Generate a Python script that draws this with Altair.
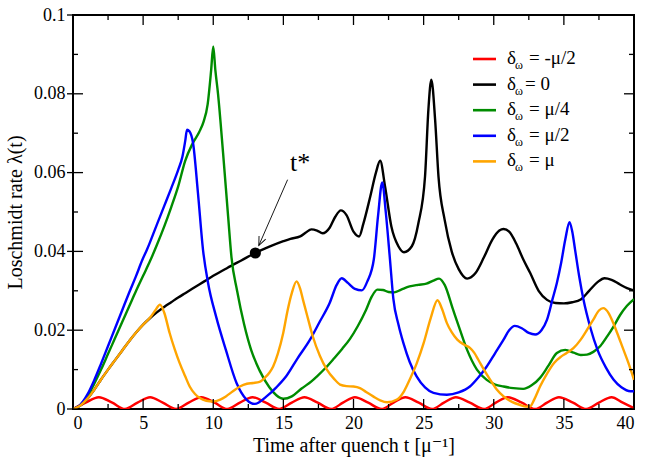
import altair as alt
import pandas as pd

W, H = 561, 394

# ---------------- data ----------------
red_t = [0, 0.9, 1.84, 2.8, 3.7, 4.6, 5.5, 6.4, 7.35, 8.25, 9.15, 10.1, 11.0, 11.9, 12.8,
         13.75, 14.7, 15.6, 16.5, 17.45, 18.4, 19.25, 20.1, 21.05, 22.0, 22.85, 23.7, 24.65,
         25.6, 26.45, 27.3, 28.3, 29.3, 30.15, 31.0, 32.0, 32.95, 33.8, 34.65, 35.65, 36.6,
         37.5, 38.4, 39.2, 40.0]
red_v = [0, 0.0016, 0.003, 0.0016, 0, 0.0016, 0.003, 0.0016, 0, 0.0016, 0.003, 0.0016, 0,
         0.0016, 0.003, 0.0016, 0, 0.0016, 0.003, 0.0016, 0, 0.0016, 0.003, 0.0016, 0, 0.0016,
         0.003, 0.0016, 0, 0.0016, 0.003, 0.0016, 0, 0.0016, 0.003, 0.0016, 0, 0.0016, 0.003,
         0.0016, 0, 0.0016, 0.003, 0.0016, 0.0002]

black_t = [0, 0.5, 1.0, 1.5, 2.0, 2.5, 3.0, 3.5, 4.0, 4.5, 5.0, 5.5, 6.0, 6.5, 7.0, 7.5, 8.0,
           8.5, 9.0, 9.5, 10.0, 11.0, 12.0, 13.0, 14.0, 15.0, 15.5, 16.2, 16.6, 17.0, 17.4,
           17.8, 18.3, 18.7, 19.1, 19.5, 20.0, 20.4, 20.7, 21.2, 21.6, 21.9, 22.25, 22.7, 23.2,
           23.6, 24.16, 24.63, 25.1, 25.34, 25.55, 25.82, 26.06, 26.5, 27.0, 27.5, 28.1, 28.7,
           29.3, 29.9, 30.4, 30.7, 31.1, 31.6, 32.1, 32.6, 33.2, 33.8, 34.4, 35.0, 35.6, 36.2,
           36.8, 37.4, 37.9, 38.4, 39.0, 39.5, 40.0]
black_v = [0, 0.0008, 0.0025, 0.0048, 0.0075, 0.0100, 0.0124, 0.0148, 0.0172, 0.0194, 0.0214,
           0.0231, 0.0246, 0.0259, 0.0271, 0.0283, 0.0294, 0.0305, 0.0316, 0.0327, 0.0338,
           0.0358, 0.0377, 0.0396, 0.0412, 0.0426, 0.0432, 0.0438, 0.0448, 0.0456, 0.0453,
           0.0446, 0.0460, 0.0488, 0.0504, 0.0492, 0.0450, 0.0438, 0.0470, 0.0540, 0.0600,
           0.0630, 0.0565, 0.0463, 0.0413, 0.0398, 0.0413, 0.0472, 0.0590, 0.0760, 0.0836,
           0.0734, 0.0590, 0.0480, 0.0400, 0.0355, 0.0331, 0.0345, 0.0385, 0.0430, 0.0453,
           0.0457, 0.0450, 0.0420, 0.0380, 0.0345, 0.0300, 0.0277, 0.0269, 0.0268, 0.0271,
           0.0278, 0.0300, 0.0322, 0.0332, 0.0328, 0.0316, 0.0307, 0.0301]

green_t = [0, 0.5, 1.0, 1.5, 2.0, 2.5, 3.0, 3.5, 4.0, 4.5, 5.0, 5.5, 6.0, 6.5, 7.0, 7.5, 8.0,
           8.5, 9.0, 9.3, 9.6, 9.85, 10.0, 10.15, 10.34, 10.7, 11.06, 11.3, 11.7, 12.2, 12.7,
           13.3, 14.0, 14.5, 15.0, 15.6, 16.3, 17.0, 17.4, 18.0, 18.6, 19.2, 19.75, 20.3, 20.9,
           21.3, 21.7, 22.1, 22.5, 22.9, 23.4, 24.0, 24.6, 25.2, 25.7, 26.1, 26.5, 27.1, 27.6,
           28.1, 28.8, 29.5, 30.1, 30.7, 31.4, 32.1, 32.7, 33.3, 33.9, 34.5, 35.1, 35.7, 36.2,
           36.65, 37.1, 37.6, 38.1, 38.55, 39.0, 39.5, 40.0]
green_v = [0, 0.0009, 0.0030, 0.0063, 0.0100, 0.0140, 0.0180, 0.0220, 0.0260, 0.0300, 0.0338,
           0.0376, 0.0418, 0.0463, 0.0512, 0.0565, 0.0630, 0.0672, 0.0703, 0.0728, 0.0773,
           0.0860, 0.0920, 0.0860, 0.0800, 0.0650, 0.0489, 0.0385, 0.0300, 0.0215, 0.0150,
           0.0098, 0.0055, 0.0035, 0.0026, 0.0032, 0.0052, 0.0070, 0.0083, 0.0104, 0.0128,
           0.0153, 0.0178, 0.0210, 0.0252, 0.0285, 0.0303, 0.0302, 0.0297, 0.0296, 0.0303,
           0.0311, 0.0315, 0.0318, 0.0326, 0.0331, 0.0315, 0.0252, 0.0200, 0.0150, 0.0100,
           0.0074, 0.0062, 0.0057, 0.0053, 0.0051, 0.0060, 0.0079, 0.0110, 0.0142, 0.0150,
           0.0143, 0.0137, 0.0138, 0.0145, 0.0160, 0.0185, 0.0210, 0.0238, 0.0262, 0.0279]

blue_t = [0, 0.5, 1.0, 1.5, 2.0, 2.5, 3.0, 3.5, 4.0, 4.5, 4.94, 5.27, 6.0, 6.5, 7.0, 7.5, 7.8,
          8.0, 8.13, 8.3, 8.56, 8.91, 9.27, 9.63, 10.2, 10.9, 11.66, 12.37, 12.96, 13.8, 14.5,
          15.2, 16.0, 16.9, 17.6, 18.3, 18.8, 19.16, 19.6, 20.1, 20.6, 21.0, 21.45, 21.75,
          22.05, 22.3, 22.6, 22.84, 23.2, 23.56, 24.0, 24.5, 25.1, 25.7, 26.66, 27.5, 28.3,
          28.9, 29.5, 30.1, 30.7, 31.1, 31.5, 32.0, 32.5, 32.96, 33.4, 33.8, 34.2, 34.5, 34.8,
          35.1, 35.4, 35.6, 35.8, 36.1, 36.4, 36.9, 37.4, 38.0, 38.55, 39.1, 39.75, 40.0]
blue_v = [0, 0.0010, 0.0035, 0.0072, 0.0115, 0.0160, 0.0205, 0.0250, 0.0295, 0.0338, 0.0378,
          0.0404, 0.0470, 0.0515, 0.0560, 0.0607, 0.0640, 0.0680, 0.0709, 0.0705, 0.0675,
          0.0548, 0.0404, 0.0320, 0.0235, 0.0150, 0.0066, 0.0024, 0.0013, 0.0032, 0.0055,
          0.0083, 0.0128, 0.0176, 0.0222, 0.0269, 0.0315, 0.0332, 0.0320, 0.0305, 0.0301,
          0.0325, 0.0380, 0.0490, 0.0575, 0.0500, 0.0380, 0.0280, 0.0215, 0.0167, 0.0120,
          0.0083, 0.0055, 0.0041, 0.0036, 0.0042, 0.0057, 0.0080, 0.0108, 0.0142, 0.0176,
          0.0200, 0.0211, 0.0205, 0.0193, 0.0189, 0.0200, 0.0227, 0.0280, 0.0320, 0.0370,
          0.0430, 0.0474, 0.0450, 0.0404, 0.0335, 0.0277, 0.0205, 0.0150, 0.0105, 0.0074,
          0.0055, 0.0045, 0.0045]

orange_t = [0, 0.5, 1.0, 1.5, 2.0, 2.5, 3.0, 3.5, 4.0, 4.5, 5.0, 5.5, 5.9, 6.2, 6.5, 6.89,
            7.25, 7.6, 8.0, 8.32, 8.7, 9.04, 9.5, 9.99, 10.5, 10.9, 11.4, 11.9, 12.4, 12.84,
            13.3, 13.7, 14.0, 14.27, 14.6, 14.99, 15.3, 15.6, 15.94, 16.2, 16.4, 16.75, 17.1,
            17.6, 18.1, 18.6, 19.04, 19.5, 20.0, 20.46, 20.9, 21.4, 21.9, 22.4, 23.1, 23.6,
            24.0, 24.5, 25.0, 25.5, 25.99, 26.3, 26.66, 27.0, 27.4, 27.9, 28.3, 28.6, 28.9,
            29.3, 29.75, 30.2, 30.7, 31.3, 31.9, 32.3, 32.6, 32.9, 33.3, 33.8, 34.3, 34.8,
            35.2, 35.7, 36.2, 36.6, 37.1, 37.5, 37.8, 38.2, 38.5, 38.8, 39.2, 39.6, 40.0]
orange_v = [0, 0.0008, 0.0025, 0.0048, 0.0075, 0.0100, 0.0124, 0.0148, 0.0172, 0.0194,
            0.0214, 0.0232, 0.0252, 0.0265, 0.0245, 0.0193, 0.0152, 0.0117, 0.0083, 0.0057,
            0.0038, 0.0028, 0.0021, 0.0019, 0.0024, 0.0032, 0.0045, 0.0057, 0.0064, 0.0066,
            0.0069, 0.0080, 0.0092, 0.0108, 0.0140, 0.0193, 0.0250, 0.0294, 0.0324, 0.0305,
            0.0277, 0.0230, 0.0184, 0.0135, 0.0100, 0.0077, 0.0062, 0.0058, 0.0057, 0.0053,
            0.0043, 0.0032, 0.0022, 0.0017, 0.0024, 0.0045, 0.0074, 0.0115, 0.0167, 0.0230,
            0.0276, 0.0255, 0.0218, 0.0195, 0.0176, 0.0163, 0.0155, 0.0143, 0.0125, 0.0100,
            0.0074, 0.0050, 0.0032, 0.0018, 0.0010, 0.0006, 0.0007, 0.0025, 0.0057, 0.0090,
            0.0117, 0.0133, 0.0142, 0.0155, 0.0176, 0.0198, 0.0227, 0.0250, 0.0256, 0.0243,
            0.0220, 0.0193, 0.0155, 0.0117, 0.0074]

legend_rest = ["= -μ/2", "= 0", "= μ/4", "= μ/2", "= μ"]
colors = ["#ff0000", "#000000", "#008c00", "#0000ff", "#ffa500"]

x_major = [0, 5, 10, 15, 20, 25, 30, 35, 40]
x_minor = [2.5, 7.5, 12.5, 17.5, 22.5, 27.5, 32.5, 37.5]
y_major = [0, 0.02, 0.04, 0.06, 0.08, 0.1]
y_minor = [0.01, 0.03, 0.05, 0.07, 0.09]

tstar_t, tstar_v = [13.0], [0.0396]
label_t, label_v = [16.2], [0.0625]
arrow_t, arrow_v, arrow_t2, arrow_v2 = [15.3], [0.0582], [13.25], [0.0415]

# ---------------- chart ----------------
FONT = "'Liberation Serif', 'Times New Roman', 'DejaVu Serif', serif"
xs = alt.Scale(domain=[0, 40], nice=False, zero=False)
ys = alt.Scale(domain=[0, 0.1], nice=False)
ax_x = alt.Axis(values=x_major, format="d", ticks=False, domain=False, grid=False,
                labelFont=FONT, labelFontSize=18, labelColor="black", labelPadding=5,
                title="Time after quench t [μ⁻¹]", titleFont=FONT, titleFontSize=20,
                titleFontWeight="normal", titleColor="black", titlePadding=3)
ax_y = alt.Axis(values=y_major, format="~g", ticks=False, domain=False, grid=False,
                labelFont=FONT, labelFontSize=18, labelColor="black", labelPadding=8,
                title="Loschmidt rate λ(t)", titleFont=FONT, titleFontSize=20,
                titleFontWeight="normal", titleColor="black", titlePadding=8)

X = lambda f="t": alt.X(f"{f}:Q", scale=xs, axis=ax_x)
Y = lambda f="v": alt.Y(f"{f}:Q", scale=ys, axis=ax_y)

layers = []
for (t, v), c in zip([(red_t, red_v), (black_t, black_v), (green_t, green_v),
                      (blue_t, blue_v), (orange_t, orange_v)], colors):
    df = pd.DataFrame({"t": t, "v": v})
    layers.append(alt.Chart(df).mark_line(color=c, strokeWidth=2.4, interpolate="monotone",
                                          clip=True).encode(x=X(), y=Y()))

# ticks (inward)
dx_maj = pd.DataFrame({"t": x_major})
dx_min = pd.DataFrame({"t": x_minor})
dy_maj = pd.DataFrame({"v": y_major})
dy_min = pd.DataFrame({"v": y_minor})
tk = dict(color="black", strokeWidth=1.3)
layers += [
    alt.Chart(dx_maj).mark_rule(**tk).encode(x=X(), y=alt.value(H), y2=alt.value(H - 10)),
    alt.Chart(dx_min).mark_rule(**tk).encode(x=X(), y=alt.value(H), y2=alt.value(H - 5)),
    alt.Chart(dx_maj).mark_rule(**tk).encode(x=X(), y=alt.value(0), y2=alt.value(10)),
    alt.Chart(dx_min).mark_rule(**tk).encode(x=X(), y=alt.value(0), y2=alt.value(5)),
    alt.Chart(dy_maj).mark_rule(**tk).encode(y=Y(), x=alt.value(-6), x2=alt.value(10)),
    alt.Chart(dy_min).mark_rule(**tk).encode(y=Y(), x=alt.value(0), x2=alt.value(5)),
    alt.Chart(dy_maj).mark_rule(**tk).encode(y=Y(), x=alt.value(W), x2=alt.value(W - 10)),
    alt.Chart(dy_min).mark_rule(**tk).encode(y=Y(), x=alt.value(W), x2=alt.value(W - 5)),
]

# t* annotation
layers.append(alt.Chart(pd.DataFrame({"t": tstar_t, "v": tstar_v})).mark_circle(
    color="black", opacity=1, size=125).encode(x=X(), y=Y()))
layers.append(alt.Chart(pd.DataFrame({"t": label_t, "v": label_v, "s": ["t*"]})).mark_text(
    font=FONT, fontSize=26, color="black").encode(x=X(), y=Y(), text="s:N"))
adf = pd.DataFrame({"t": arrow_t, "v": arrow_v, "t2": arrow_t2, "v2": arrow_v2})
layers.append(alt.Chart(adf).mark_rule(color="black", strokeWidth=0.9).encode(
    x=X(), y=Y(), x2="t2:Q", y2="v2:Q"))
layers.append(alt.Chart(adf).mark_point(
    shape="M-0.42,-1L0,0L0.42,-1", filled=False, size=300, angle=24, color="black",
    strokeWidth=0.9, opacity=1).encode(x=X("t2"), y=Y("v2")))

# legend (custom, with subscript omega)
for i, (rest, c) in enumerate(zip(legend_rest, colors)):
    yy = 44 + i * 25.6
    layers.append(alt.Chart(pd.DataFrame({"a": [0]})).mark_rule(color=c, strokeWidth=2.6).encode(
        x=alt.value(400), x2=alt.value(423), y=alt.value(yy)))
    layers.append(alt.Chart(pd.DataFrame({"a": [0]})).mark_text(
        text="δ", font=FONT, fontSize=19, color="black", align="left", baseline="alphabetic").encode(
        x=alt.value(434), y=alt.value(yy + 5)))
    layers.append(alt.Chart(pd.DataFrame({"a": [0]})).mark_text(
        text="ω", font=FONT, fontSize=12, color="black", align="left", baseline="alphabetic").encode(
        x=alt.value(442), y=alt.value(yy + 10)))
    layers.append(alt.Chart(pd.DataFrame({"a": [0]})).mark_text(
        text=rest, font=FONT, fontSize=19, color="black", align="left", baseline="alphabetic").encode(
        x=alt.value(452 if rest == "= 0" else 456), y=alt.value(yy + 5)))

chart = alt.layer(*layers).properties(
    width=W, height=H,
    autosize=alt.AutoSizeParams(type="none"),
    padding={"left": 73, "top": 15, "right": 11, "bottom": 51},
    background="white",
).configure_view(stroke="black", strokeWidth=2)

chart.save("out.html", embed_options={"renderer": "svg", "actions": False})
